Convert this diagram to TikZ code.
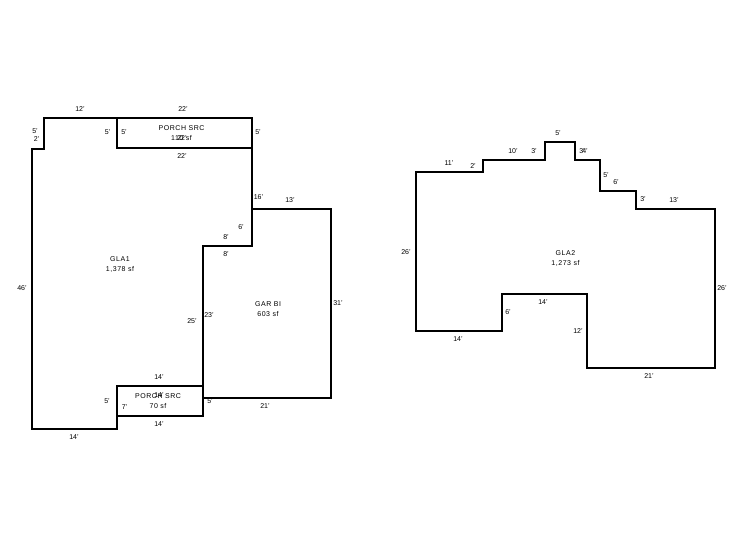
\documentclass[tikz,border=0pt]{standalone}
\usepackage{fontspec}
\setmainfont{Liberation Sans}
\newfontfamily\roomfont[LetterSpace=8]{Liberation Sans}
\usetikzlibrary{positioning}

\begin{document}
\begin{tikzpicture}[
                x=1pt, y=-1pt,
                wall/.style={draw=black, line width=1.8pt, line join=miter},
                dimlabel/.style={inner sep=0pt, font=\fontsize{7}{8}\selectfont},
                roomlabel/.style={inner sep=0pt, align=center, font=\roomfont\fontsize{7}{10}\selectfont},
            ]

            \useasboundingbox (0, 0) rectangle (746, 547);

            % first floor
            \draw[wall] (32, 429) -- (32, 149) -- (44, 149) -- (44, 118) -- (252, 118) -- (252, 246)
                -- (203, 246) -- (203, 416) -- (117, 416) -- (117, 429) -- cycle;

            % upper porch
            \draw[wall] (117, 118) -- (117, 148) -- (252, 148);

            % lower porch
            \draw[wall] (117, 416) -- (117, 386) -- (203, 386);

            % garage
            \draw[wall] (252, 209) -- (331, 209) -- (331, 398) -- (203, 398);

            % second floor
            \draw[wall] (416, 172) -- (483, 172) -- (483, 160) -- (545, 160) -- (545, 142) -- (575, 142)
                -- (575, 160) -- (600, 160) -- (600, 191) -- (636, 191) -- (636, 209) -- (715, 209)
                -- (715, 368) -- (587, 368) -- (587, 294) -- (502, 294) -- (502, 331) -- (416, 331) -- cycle;

            % rooms
            \node[roomlabel] (gla1) at (120, 264) {GLA1\\1,378 sf};
            \node[roomlabel] (porchUp) at (181.5, 133) {PORCH SRC\\110 sf};
            \node[roomlabel] (porchLow) at (158, 401) {PORCH SRC\\70 sf};
            \node[roomlabel] (garage) at (268, 309) {GAR BI\\603 sf};
            \node[roomlabel] (gla2) at (565.5, 258) {GLA2\\1,273 sf};

            % first floor dims
            \node[dimlabel] (a1) at (80, 109) {12'};
            \node[dimlabel] (a2) at (183, 109) {22'};
            \node[dimlabel] (a3) at (35, 131.5) {5'};
            \node[dimlabel] (a4) at (36.5, 139) {2'};
            \node[dimlabel] (a5) at (107.5, 132) {5'};
            \node[dimlabel] (a6) at (124, 132) {5'};
            \node[dimlabel] (a7) at (182, 138) {22'};
            \node[dimlabel] (a8) at (182, 156.5) {22'};
            \node[dimlabel] (a9) at (258, 132) {5'};
            \node[dimlabel] (a10) at (258.5, 197) {16'};
            \node[dimlabel] (a11) at (241, 227) {6'};
            \node[dimlabel] (a12) at (226, 237) {8'};
            \node[dimlabel] (a13) at (226, 254.5) {8'};
            \node[dimlabel] (a14) at (22, 288) {46'};
            \node[dimlabel] (a15) at (192, 321) {25'};
            \node[dimlabel] (a16) at (159, 377) {14'};
            \node[dimlabel] (a17) at (159, 395) {14'};
            \node[dimlabel] (a18) at (107, 401) {5'};
            \node[dimlabel] (a19) at (124.5, 407) {7'};
            \node[dimlabel] (a20) at (159, 424) {14'};
            \node[dimlabel] (a21) at (74, 437) {14'};

            % garage dims
            \node[dimlabel] (b1) at (290, 200) {13'};
            \node[dimlabel] (b2) at (209, 315) {23'};
            \node[dimlabel] (b3) at (338, 303) {31'};
            \node[dimlabel] (b4) at (210, 401) {5'};
            \node[dimlabel] (b5) at (265, 406) {21'};

            % second floor dims
            \node[dimlabel] (c1) at (449, 163) {11'};
            \node[dimlabel] (c2) at (473, 166) {2'};
            \node[dimlabel] (c3) at (513, 151) {10'};
            \node[dimlabel] (c4) at (534, 151) {3'};
            \node[dimlabel] (c5) at (558, 133) {5'};
            \node[dimlabel] (c6) at (582, 151) {3'};
            \node[dimlabel] (c7) at (585, 151) {4'};
            \node[dimlabel] (c8) at (606, 175) {5'};
            \node[dimlabel] (c9) at (616, 182) {6'};
            \node[dimlabel] (c10) at (643, 199) {3'};
            \node[dimlabel] (c11) at (674, 200) {13'};
            \node[dimlabel] (c12) at (406, 252) {26'};
            \node[dimlabel] (c13) at (722, 288) {26'};
            \node[dimlabel] (c14) at (543, 302) {14'};
            \node[dimlabel] (c15) at (508, 312) {6'};
            \node[dimlabel] (c16) at (578, 331) {12'};
            \node[dimlabel] (c17) at (458, 339) {14'};
            \node[dimlabel] (c18) at (649, 376) {21'};
        \end{tikzpicture}
\end{document}
